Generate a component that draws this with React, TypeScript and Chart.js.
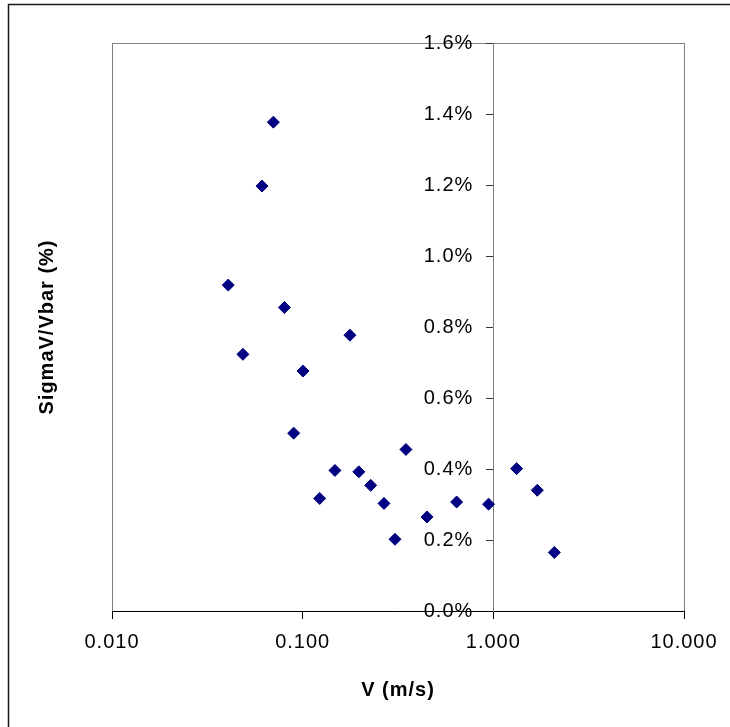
import React, { useEffect, useRef } from "react";
import { Chart, registerables } from "chart.js";

Chart.register(...registerables);

// Data
const velocity = [
  0.0407, 0.0486, 0.0612, 0.0702, 0.0802, 0.0897, 0.1004, 0.1228, 0.1477, 0.177, 0.197,
  0.2274, 0.267, 0.305, 0.348, 0.449, 0.642, 0.944, 1.325, 1.7, 2.089,
];
const sigmaPct = [
  0.918, 0.723, 1.197, 1.377, 0.855, 0.501, 0.676, 0.317, 0.396, 0.777, 0.392,
  0.354, 0.303, 0.202, 0.455, 0.265, 0.307, 0.301, 0.401, 0.34, 0.165,
];
const xTicks = [0.01, 0.1, 1, 10];
const yTicks = [0, 0.2, 0.4, 0.6, 0.8, 1.0, 1.2, 1.4, 1.6];
const xTitle = "V (m/s)";
const yTitle = "SigmaV/Vbar (%)";

const FONT = "'Liberation Sans', Arial, sans-serif";

const framePlugin = {
  id: "frame",
  beforeDraw(chart: any) {
    const { ctx, chartArea } = chart;
    ctx.save();
    // outer chart frame (extends beyond the picture on right/bottom)
    ctx.strokeStyle = "#1a1a1a";
    ctx.lineWidth = 1.5;
    ctx.strokeRect(8.5, 4.5, 1000, 1000);
    // plot area border
    ctx.strokeStyle = "#808080";
    ctx.lineWidth = 1;
    ctx.strokeRect(
      Math.round(chartArea.left) + 0.5,
      Math.round(chartArea.top) + 0.5,
      Math.round(chartArea.right - chartArea.left),
      Math.round(chartArea.bottom - chartArea.top)
    );
    ctx.restore();
    // Excel-like wider text spacing
    (ctx as any).letterSpacing = "1px";
  },
  afterDraw(chart: any) {
    (chart.ctx as any).letterSpacing = "0px";
  },
};

// y axis sits at x = 1; its labels go to the left of its tick marks
const shiftYLabels = (s: any) => {
  if (s.__shifted) return;
  s.__shifted = true;
  const orig = s.drawLabels;
  s.drawLabels = function (area: any) {
    const ctx = this.ctx;
    ctx.save();
    ctx.translate(-20, 0);
    orig.call(this, area);
    ctx.restore();
  };
};

export default function App() {
  const canvasRef = useRef<HTMLCanvasElement | null>(null);

  useEffect(() => {
    if (!canvasRef.current) return;
    Chart.defaults.font.family = FONT;
    const chart = new Chart(canvasRef.current, {
      type: "scatter",
      data: {
        datasets: [
          {
            data: velocity.map((v, i) => ({ x: v, y: sigmaPct[i] })),
            pointStyle: "rectRot",
            pointRadius: 6,
            pointHoverRadius: 6,
            backgroundColor: "#000080",
            borderColor: "#000080",
            borderWidth: 1,
          },
        ],
      },
      options: {
        responsive: false,
        animation: false,
        events: [],
        layout: { padding: { top: 43, right: 46, left: 0, bottom: 0 } },
        plugins: {
          legend: { display: false },
          tooltip: { enabled: false },
        },
        scales: {
          x: {
            type: "logarithmic",
            position: "bottom",
            min: 0.01,
            max: 10,
            afterBuildTicks: (s: any) => {
              s.ticks = xTicks.map((v) => ({ value: v }));
            },
            afterFit: (s: any) => {
              s.height = 116;
            },
            ticks: {
              autoSkip: false,
              maxRotation: 0,
              color: "#000",
              padding: 11,
              font: { size: 20, family: FONT },
              callback: (v: any) => Number(v).toFixed(3),
            },
            grid: {
              display: true,
              drawOnChartArea: false,
              drawTicks: true,
              tickLength: 8,
              color: "#000",
              tickColor: "#000",
            },
            border: { display: true, color: "#000", width: 1 },
            title: {
              display: true,
              text: xTitle,
              color: "#000",
              font: { size: 20, weight: "bold", family: FONT },
              padding: { top: 0, bottom: 25 },
            },
          },
          y: {
            type: "linear",
            position: { x: 1 } as any,
            min: 0,
            max: 1.6,
            afterBuildTicks: (s: any) => {
              s.ticks = yTicks.map((v) => ({ value: v }));
            },
            afterUpdate: shiftYLabels,
            ticks: {
              color: "#000",
              padding: 13,
              font: { size: 20, family: FONT },
              callback: (v: any) => Number(v).toFixed(1) + "%",
            },
            grid: {
              display: true,
              drawOnChartArea: false,
              drawTicks: true,
              tickLength: 7,
              color: "#333",
              tickColor: "#333",
            },
            border: { display: true, color: "#808080", width: 1 },
          },
          yTitleAxis: {
            type: "linear",
            position: "left",
            display: true,
            afterFit: (s: any) => {
              s.width = 112;
            },
            ticks: { display: false },
            grid: { display: false, drawTicks: false },
            border: { display: false },
            title: {
              display: true,
              text: yTitle,
              color: "#000",
              font: { size: 20, weight: "bold", family: FONT },
              padding: { top: 35, bottom: 0 },
            },
          },
        },
      },
      plugins: [framePlugin],
    } as any);
    return () => chart.destroy();
  }, []);

  return (
    <canvas
      ref={canvasRef}
      width={730}
      height={727}
      style={{ position: "absolute", left: 0, top: 0, width: 730, height: 727 }}
    />
  );
}
